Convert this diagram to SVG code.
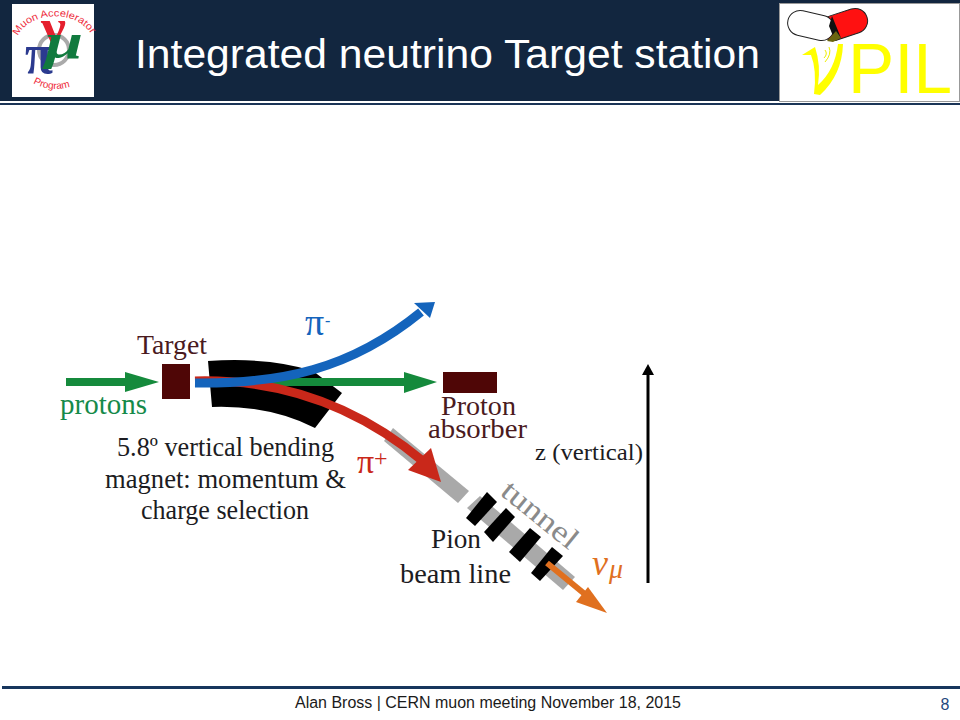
<svg xmlns="http://www.w3.org/2000/svg" width="960" height="720" viewBox="0 0 960 720">
<style>
.s{font-family:"Liberation Serif","DejaVu Serif",serif}
.d{font-size:27px;fill:#1c1c22}
.m{fill:#4f0606}
.t{fill:#4a1a1e;font-size:28px}
.g{fill:#a9a9a9}
.k{fill:#000}
.a{fill:none}
</style>
<defs>
<path id="arcTop" d="M18 36 C28 13 74 7 92 35"/>
<path id="arcBot" d="M33 83 Q55 95 79 83"/>
</defs>
<rect width="960" height="720" fill="#fff"/>
<g id="header">
<rect width="960" height="101" fill="#12263f"/>
<rect y="103" width="960" height="2" fill="#1b3557"/>
<text x="135" y="68" textLength="625" lengthAdjust="spacingAndGlyphs" font-family="Liberation Sans,sans-serif" font-size="41" fill="#fff">Integrated neutrino Target station</text>
</g>
<g id="logo-map">
<rect x="12" y="4" width="82" height="93" fill="#fff"/>
<circle cx="54" cy="50" r="15" fill="none" stroke="#aaa" stroke-width="4"/>
<text font-family="Liberation Sans,sans-serif" font-size="10" fill="#ee2b3b"><textPath href="#arcTop" textLength="86" lengthAdjust="spacingAndGlyphs">Muon Accelerator</textPath></text>
<text font-family="Liberation Sans,sans-serif" font-size="10" fill="#ee2b3b"><textPath href="#arcBot">Program</textPath></text>
<text x="25" y="73" textLength="28" lengthAdjust="spacingAndGlyphs" class="s" font-size="56" font-weight="bold" fill="#2b3a8f">π</text>
<text x="41" y="44" textLength="25" lengthAdjust="spacingAndGlyphs" class="s" font-size="50" font-weight="bold" fill="#e5202e">ν</text>
<text x="45" y="58" textLength="38" lengthAdjust="spacingAndGlyphs" class="s" font-size="50" font-style="italic" font-weight="bold" fill="#117a3e">μ</text>
</g>
<g id="logo-nupil">
<rect x="779.500" y="3.500" width="180" height="98" fill="#fff" stroke="#999"/>
<rect x="820" y="12" width="48" height="25" rx="12.500" fill="#f11" stroke="#222" transform="rotate(-18 844 24)"/>
<rect x="787.500" y="13" width="47" height="25" rx="12.500" fill="#fff" stroke="#222" transform="rotate(13 811 25)"/>
<path d="M832 16 L841 38 L835 41 L829 26Z" fill="#111"/>
<path d="M827 41 L836 31 L841 38 L833 42Z" fill="#6b6510"/>
<path d="M802 55 L815 47 Q821 65 818 85 Q835 70 838 44 L843 44 Q842 75 820 95 L814 94 Q817 70 811 55Z" fill="#ff0"/>
<path d="M829 47 Q832 54 825 62 M825 50 Q828 54 824 58" fill="none" stroke="#ee0" stroke-width="1"/>
<text x="848" y="93" textLength="104" lengthAdjust="spacingAndGlyphs" font-family="Liberation Sans,sans-serif" font-size="71" fill="#ff0">PIL</text>
</g>
<g id="magnet">
<path class="k" d="M208 361 Q270 357 313 371 L342 393 L315 428 Q270 405 212 407Z"/>
</g>
<g id="target">
<rect class="m" x="162" y="364" width="28" height="35"/>
<text x="137" y="354" textLength="70" lengthAdjust="spacingAndGlyphs" class="s t">Target</text>
</g>
<g id="absorber">
<rect class="m" x="443" y="372" width="54" height="21"/>
<text x="441" y="415" textLength="75" lengthAdjust="spacingAndGlyphs" class="s t">Proton</text>
<text x="428" y="438" textLength="99" lengthAdjust="spacingAndGlyphs" class="s t">absorber</text>
</g>
<g id="tunnel">
<path class="g" d="M393 428 L469 491 L458 503 L384 441Z"/>
<path class="g" d="M480 496 L575 577 L563 590 L467 508Z"/>
<text x="499" y="494" textLength="90" lengthAdjust="spacingAndGlyphs" transform="rotate(39 499 494)" class="s" font-size="30" fill="#8a8a8a">tunnel</text>
</g>
<g id="pion-beam-line">
<path class="k" d="M487 492 L497 502 L475 526 L466 518Z"/>
<path class="k" d="M506 508 L515 517 L493 542 L484 532Z"/>
<path class="k" d="M530 528 L541 537 L520 562 L509 552Z"/>
<path class="k" d="M552 547 L563 556 L540 581 L531 573Z"/>
<text x="431" y="548" textLength="50" lengthAdjust="spacingAndGlyphs" class="s d">Pion</text>
<text x="400" y="583" textLength="111" lengthAdjust="spacingAndGlyphs" class="s d">beam line</text>
</g>
<g id="connectors">
<path d="M66 382 H127" stroke="#158a3c" stroke-width="8" fill="none"/>
<path d="M125 372 L159 382 L125 392Z" fill="#158a3c"/>
<path d="M240 382 H406" stroke="#158a3c" stroke-width="8" fill="none"/>
<path d="M404 372 L437 382 L404 393Z" fill="#158a3c"/>
<path d="M195 381 C270 379 350 400 424 462" stroke="#c9281a" stroke-width="9" fill="none"/>
<path d="M431 448 L441 482 L408 470Z" fill="#c9281a"/>
<path d="M195 383 C280 384 350 370 421 312" stroke="#1464bc" stroke-width="9" fill="none"/>
<path d="M414 303 L435 302 L430 318Z" fill="#1464bc"/>
<path d="M547 563 L592 600" stroke="#e0701f" stroke-width="6" fill="none"/>
<path d="M588 587 L607 613 L576 602Z" fill="#e0701f"/>
<path d="M648 583 V372" stroke="#000" stroke-width="3" fill="none"/>
<path d="M642 375 L648 364 L654 375Z" fill="#000"/>
</g>
<g id="labels">
<text x="60" y="414" textLength="87" lengthAdjust="spacingAndGlyphs" class="s" font-size="29" fill="#158a4a">protons</text>
<text x="117" y="456" textLength="217" lengthAdjust="spacingAndGlyphs" class="s d">5.8º vertical bending</text>
<text x="105" y="488" textLength="241" lengthAdjust="spacingAndGlyphs" class="s d">magnet: momentum &amp;</text>
<text x="141" y="519" textLength="168" lengthAdjust="spacingAndGlyphs" class="s d">charge selection</text>
<text x="305" y="335" class="s" font-size="38" fill="#1464bc">π</text>
<text x="325" y="326" class="s" font-size="16" fill="#1464bc">-</text>
<text x="357" y="473" class="s" font-size="34" fill="#c9281a">π</text>
<text x="374" y="466" class="s" font-size="24" fill="#c9281a">+</text>
<text x="535" y="460" textLength="108" lengthAdjust="spacingAndGlyphs" class="s d" style="font-size:24px">z (vertical)</text>
<text x="592" y="575" class="s" font-size="36" font-style="italic" fill="#e0701f">ν</text>
<text x="609" y="578" class="s" font-size="28" font-style="italic" fill="#e0701f">μ</text>
</g>
<g id="footer">
<rect x="2" y="686" width="958" height="3" fill="#17365d"/>
<text x="295" y="708" textLength="386" lengthAdjust="spacingAndGlyphs" font-family="Liberation Sans,sans-serif" font-size="16" fill="#1a1a1a">Alan Bross | CERN muon meeting November 18, 2015</text>
<text x="945" y="710" text-anchor="middle" font-family="Liberation Sans,sans-serif" font-size="16" fill="#1f497d">8</text>
</g>
</svg>
